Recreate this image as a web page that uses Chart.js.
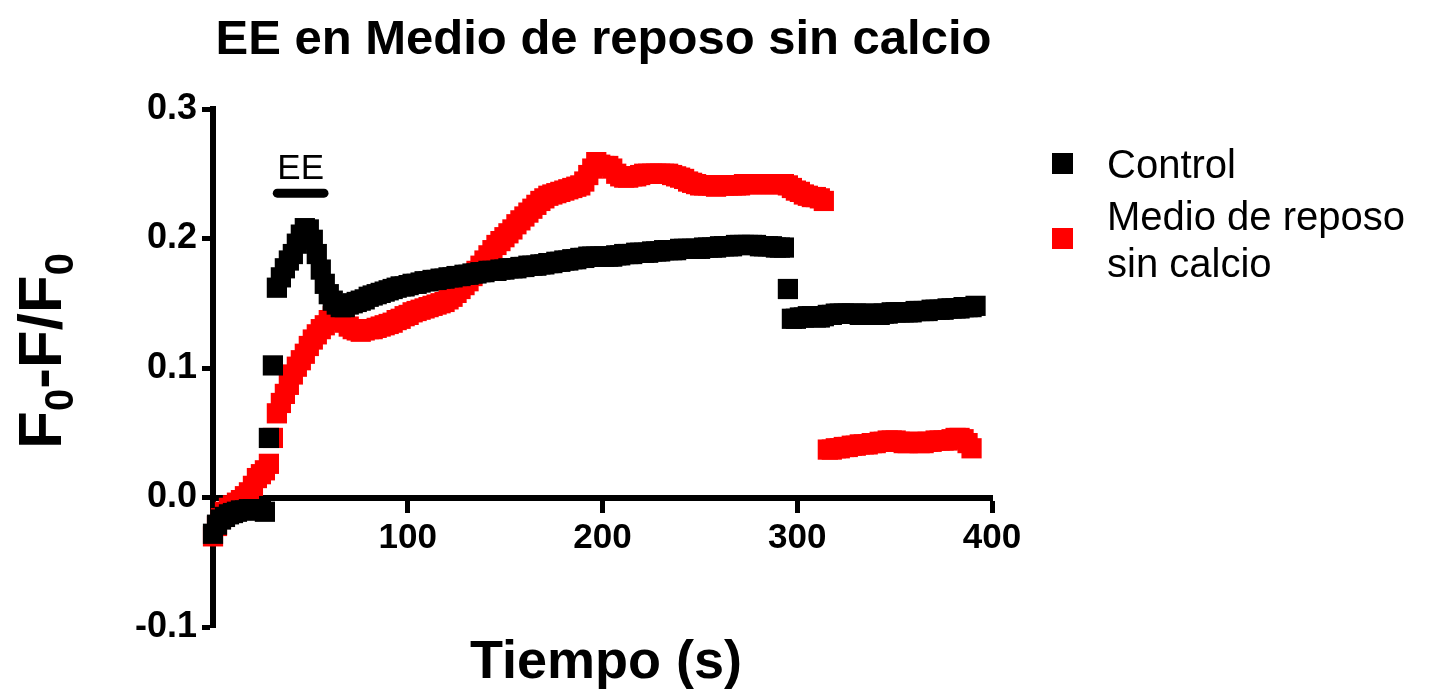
<!DOCTYPE html>
<html>
<head>
<meta charset="utf-8">
<title>EE en Medio de reposo sin calcio</title>
<script src="https://cdn.jsdelivr.net/npm/chart.js@4.4.1/dist/chart.umd.min.js"></script>
<style>
  html, body { margin: 0; padding: 0; background: #fff; }
  #wrap { width: 1432px; height: 690px; }
</style>
</head>
<body>
<div id="wrap"><canvas id="c" width="1432" height="690"></canvas></div>
<script>
// Acquisition clock: one frame every 2.05 s
const sampleInterval = 2.05;

// F0-F/F0, Control
const controlValues = [
  -0.028, -0.021, -0.017, -0.015, -0.013, -0.012, -0.011, -0.010, -0.010, -0.009,
  -0.009, -0.009, -0.010, -0.011, 0.046, 0.102, 0.162, 0.170, 0.177, 0.183,
  0.188, 0.196, 0.203, 0.208, 0.207, 0.199, 0.188, 0.176, 0.165, 0.157,
  0.152, 0.149, 0.147, 0.147, 0.149, 0.150, 0.151, 0.152, 0.153, 0.155,
  0.156, 0.157, 0.158, 0.159, 0.160, 0.161, 0.162, 0.163, 0.163, 0.164,
  0.165, 0.165, 0.166, 0.167, 0.167, 0.168, 0.168, 0.169, 0.169, 0.170,
  0.170, 0.171, 0.171, 0.172, 0.172, 0.173, 0.173, 0.174, 0.174, 0.175,
  0.175, 0.175, 0.176, 0.176, 0.177, 0.177, 0.177, 0.178, 0.178, 0.179,
  0.179, 0.179, 0.180, 0.180, 0.181, 0.181, 0.182, 0.182, 0.183, 0.183,
  0.184, 0.184, 0.185, 0.185, 0.186, 0.186, 0.186, 0.186, 0.186, 0.186,
  0.186, 0.187, 0.187, 0.188, 0.188, 0.188, 0.189, 0.189, 0.189, 0.189,
  0.190, 0.190, 0.190, 0.191, 0.191, 0.191, 0.191, 0.192, 0.192, 0.192,
  0.192, 0.192, 0.192, 0.193, 0.193, 0.193, 0.193, 0.194, 0.194, 0.194,
  0.194, 0.195, 0.195, 0.195, 0.195, 0.195, 0.195, 0.194, 0.194, 0.194,
  0.194, 0.193, 0.193, 0.193, 0.161, 0.138, 0.138, 0.139, 0.139, 0.140,
  0.140, 0.139, 0.139, 0.140, 0.141, 0.141, 0.142, 0.142, 0.142, 0.142,
  0.142, 0.142, 0.141, 0.141, 0.142, 0.142, 0.141, 0.141, 0.142, 0.142,
  0.143, 0.143, 0.143, 0.143, 0.143, 0.143, 0.144, 0.144, 0.144, 0.144,
  0.145, 0.145, 0.145, 0.145, 0.146, 0.146, 0.146, 0.146, 0.147, 0.147,
  0.147, 0.148
];

// F0-F/F0, Medio de reposo sin calcio
const sinCalcioValues = [
  -0.030, -0.022, -0.016, -0.011, -0.008, -0.006, -0.004, -0.002, 0.001, 0.004,
  0.009, 0.015, 0.018, 0.021, 0.026, 0.046, 0.065, 0.073, 0.080, 0.087,
  0.095, 0.101, 0.106, 0.111, 0.117, 0.122, 0.126, 0.130, 0.133, 0.137,
  0.140, 0.141, 0.138, 0.135, 0.132, 0.130, 0.129, 0.128, 0.129, 0.130,
  0.130, 0.131, 0.132, 0.133, 0.134, 0.135, 0.137, 0.138, 0.140, 0.141,
  0.143, 0.144, 0.145, 0.146, 0.147, 0.148, 0.149, 0.150, 0.151, 0.153,
  0.155, 0.158, 0.161, 0.164, 0.167, 0.171, 0.175, 0.179, 0.183, 0.187,
  0.191, 0.195, 0.198, 0.201, 0.204, 0.207, 0.211, 0.214, 0.217, 0.220,
  0.223, 0.226, 0.229, 0.231, 0.233, 0.234, 0.235, 0.236, 0.237, 0.238,
  0.239, 0.240, 0.241, 0.244, 0.249, 0.254, 0.259, 0.257, 0.256, 0.256,
  0.254, 0.250, 0.248, 0.247, 0.247, 0.248, 0.248, 0.249, 0.250, 0.250,
  0.250, 0.250, 0.250, 0.250, 0.250, 0.249, 0.248, 0.247, 0.246, 0.244,
  0.243, 0.242, 0.241, 0.241, 0.241, 0.241, 0.240, 0.241, 0.241, 0.241,
  0.241, 0.241, 0.241, 0.242, 0.242, 0.242, 0.242, 0.242, 0.242, 0.242,
  0.242, 0.242, 0.242, 0.242, 0.241, 0.239, 0.237, 0.236, 0.234, 0.233,
  0.232, 0.232, 0.231, 0.229, 0.037, 0.037, 0.038, 0.038, 0.039, 0.039,
  0.040, 0.040, 0.041, 0.041, 0.041, 0.042, 0.042, 0.043, 0.043, 0.044,
  0.044, 0.044, 0.043, 0.042, 0.042, 0.043, 0.043, 0.042, 0.042, 0.043,
  0.043, 0.044, 0.044, 0.044, 0.044, 0.045, 0.046, 0.046, 0.045, 0.042,
  0.038
];

const seriesNames = ['Control', 'Medio de reposo sin calcio'];
const seriesColors = ['#000000', '#ff0000'];
const xTicks = [100, 200, 300, 400];
const yTicks = [-0.1, 0.0, 0.1, 0.2, 0.3];

// Field-stimulation (EE) window, seconds, and the level of its marker bar
const stimulusWindow = [33, 57];
const stimulusLevel = 0.235;

const FONT = '"Liberation Sans", Arial, Helvetica, sans-serif';

function toPoints(values) {
  return values.map((v, i) => ({ x: i * sampleInterval, y: v }));
}

const decorations = {
  id: 'decorations',
  afterDraw(chart) {
    const { ctx, chartArea, scales } = chart;
    const xs = scales.x, ys = scales.y;
    ctx.save();
    ctx.fillStyle = '#000';

    // Title
    ctx.font = 'bold 49px ' + FONT;
    ctx.textAlign = 'center';
    ctx.textBaseline = 'alphabetic';
    ctx.fillText('EE en Medio de reposo sin calcio', (chartArea.left + chartArea.right) / 2 + 1, 54);

    // X axis title
    ctx.font = 'bold 54px ' + FONT;
    ctx.fillText('Tiempo (s)', 606, 678);

    // Y axis title: F0-F/F0 with subscripts, rotated
    ctx.save();
    ctx.translate(61, 351);
    ctx.rotate(-Math.PI / 2);
    const big = 'bold 62px ' + FONT;
    const small = 'bold 40px ' + FONT;
    const parts = [
      { t: 'F', f: big, dy: 0 },
      { t: '0', f: small, dy: 12 },
      { t: '-F/F', f: big, dy: 0 },
      { t: '0', f: small, dy: 12 }
    ];
    let total = 0;
    parts.forEach(p => { ctx.font = p.f; p.w = ctx.measureText(p.t).width; total += p.w; });
    let px = -total / 2;
    ctx.textAlign = 'left';
    parts.forEach(p => { ctx.font = p.f; ctx.fillText(p.t, px, p.dy); px += p.w; });
    ctx.restore();

    // EE stimulus bar and label
    const x0 = xs.getPixelForValue(stimulusWindow[0]);
    const x1 = xs.getPixelForValue(stimulusWindow[1]);
    const yb = ys.getPixelForValue(stimulusLevel);
    ctx.strokeStyle = '#000';
    ctx.lineWidth = 9;
    ctx.lineCap = 'round';
    ctx.beginPath();
    ctx.moveTo(x0, yb);
    ctx.lineTo(x1, yb);
    ctx.stroke();
    ctx.font = '35px ' + FONT;
    ctx.textAlign = 'center';
    ctx.fillText('EE', (x0 + x1) / 2, yb - 14);

    // Legend
    ctx.textAlign = 'left';
    ctx.font = '40px ' + FONT;
    ctx.fillStyle = seriesColors[0];
    ctx.fillRect(1052, 153, 21, 21);
    ctx.fillStyle = '#000';
    ctx.fillText('Control', 1107, 178);
    ctx.fillStyle = seriesColors[1];
    ctx.fillRect(1052, 228, 21, 21);
    ctx.fillStyle = '#000';
    ctx.fillText('Medio de reposo', 1107, 230);
    ctx.fillText('sin calcio', 1107, 277);

    ctx.restore();
  }
};

new Chart(document.getElementById('c'), {
  type: 'scatter',
  data: {
    datasets: [
      {
        label: seriesNames[0],
        data: toPoints(controlValues),
        backgroundColor: seriesColors[0],
        borderColor: seriesColors[0],
        borderWidth: 0,
        pointStyle: 'rect',
        pointRadius: 14.3,
        pointHoverRadius: 14.3,
        clip: false
      },
      {
        label: seriesNames[1],
        data: toPoints(sinCalcioValues),
        backgroundColor: seriesColors[1],
        borderColor: seriesColors[1],
        borderWidth: 0,
        pointStyle: 'rect',
        pointRadius: 14.3,
        pointHoverRadius: 14.3,
        clip: false
      }
    ]
  },
  options: {
    responsive: false,
    animation: false,
    devicePixelRatio: 1,
    events: [],
    layout: { padding: { left: 0, right: 440, top: 109, bottom: 63 } },
    plugins: {
      legend: { display: false },
      title: { display: false },
      tooltip: { enabled: false }
    },
    scales: {
      x: {
        type: 'linear',
        position: { y: 0 },
        min: 0,
        max: 400,
        afterBuildTicks(scale) { scale.ticks = xTicks.map(v => ({ value: v })); },
        ticks: {
          color: '#000',
          font: { family: FONT, size: 35, weight: 'bold' },
          padding: 8,
          maxRotation: 0,
          callback: v => String(v)
        },
        grid: { drawOnChartArea: false, drawTicks: true, tickLength: 12, tickWidth: 5, tickColor: '#000' },
        border: { display: true, width: 6, color: '#000' }
      },
      y: {
        type: 'linear',
        position: 'left',
        min: -0.1,
        max: 0.3,
        afterFit(scale) { scale.width = 213; },
        afterBuildTicks(scale) { scale.ticks = yTicks.map(v => ({ value: v })); },
        ticks: {
          color: '#000',
          font: { family: FONT, size: 36, weight: 'bold' },
          padding: 5,
          callback: v => Number(v).toFixed(1)
        },
        grid: { drawOnChartArea: false, drawTicks: true, tickLength: 11, tickWidth: 5, tickColor: '#000' },
        border: { display: true, width: 6, color: '#000' }
      }
    }
  },
  plugins: [decorations]
});
</script>
</body>
</html>
